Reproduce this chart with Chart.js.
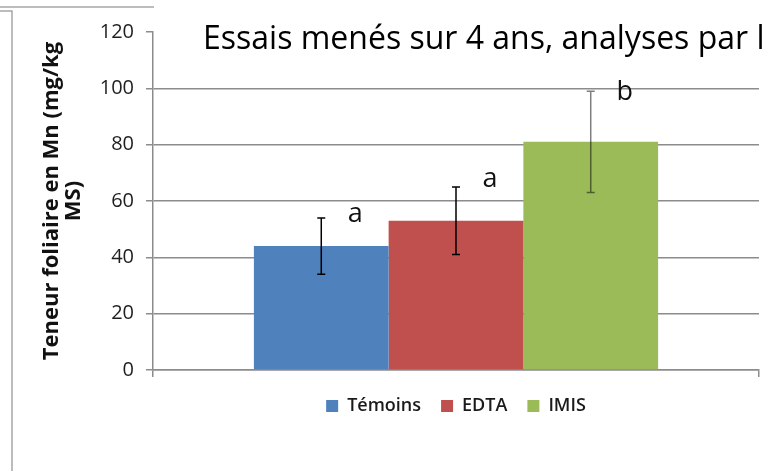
<!DOCTYPE html>
<html>
<head>
<meta charset="utf-8">
<script src="https://cdn.jsdelivr.net/npm/chart.js@4/dist/chart.umd.min.js"></script>
<style>
  body { margin: 0; background: #fff; }
  canvas { display: block; }
</style>
</head>
<body>
<canvas id="mnChart" width="765" height="471"></canvas>
<script>
// data
var categories = [''];
var treatments = ['Témoins', 'EDTA', 'IMIS'];
var means = [44, 53, 81];
var errLow = [34, 41, 63];
var errHigh = [54, 65, 99];
var letters = ['a', 'a', 'b'];
var letterAt = [52.5, 65, 96];
var yTicks = [0, 20, 40, 60, 80, 100, 120];

var colors = ['#4F81BD', '#C0504D', '#9BBB59'];
var errColors = ['#000000', '#000000', 'rgba(0,0,0,0.5)'];

var fontName = "'Open Sans', sans-serif";

var errorBarPlugin = {
    id: 'errorBars',
    afterDatasetsDraw: function(chart){
        var ctx = chart.ctx;
        var y = chart.scales.y;
        ctx.save();
        for(var i = 0; i < treatments.length; i++)
        {
            var bar = chart.getDatasetMeta(i).data[0];
            var top = y.getPixelForValue(errHigh[i]);
            var bot = y.getPixelForValue(errLow[i]);
            ctx.strokeStyle = errColors[i];
            ctx.lineWidth = 1.5;
            ctx.beginPath();
            ctx.moveTo(bar.x, top);
            ctx.lineTo(bar.x, bot);
            ctx.moveTo(bar.x - 4, top);
            ctx.lineTo(bar.x + 4, top);
            ctx.moveTo(bar.x - 4, bot);
            ctx.lineTo(bar.x + 4, bot);
            ctx.stroke();

            // significance letters
            ctx.fillStyle = '#111';
            ctx.font = '27px ' + fontName;
            ctx.textAlign = 'center';
            ctx.textBaseline = 'alphabetic';
            ctx.fillText(letters[i], bar.x + 34, y.getPixelForValue(letterAt[i]));
        }
        ctx.restore();
    }
};

var overlayPlugin = {
    id: 'overlay',
    afterDraw: function(chart){
        var ctx = chart.ctx;
        ctx.save();
        // text box laid over the top of the chart
        ctx.fillStyle = '#fff';
        ctx.fillRect(155, 0, chart.width - 155, 80);
        ctx.fillStyle = '#000';
        ctx.font = '32px ' + fontName;
        ctx.textAlign = 'left';
        ctx.textBaseline = 'alphabetic';
        ctx.fillText('Essais menés sur 4 ans, analyses par les', 203, 49);
        // outer frame
        ctx.strokeStyle = '#a6a6a6';
        ctx.lineWidth = 1.5;
        ctx.beginPath();
        ctx.moveTo(0, 7);
        ctx.lineTo(154, 7);
        ctx.moveTo(0, 11);
        ctx.lineTo(12, 11);
        ctx.lineTo(12, chart.height);
        ctx.stroke();
        ctx.restore();
    }
};

var datasets = [];
for(var i = 0; i < treatments.length; i++)
{
    datasets.push({
        label: treatments[i],
        data: [means[i]],
        backgroundColor: colors[i],
        borderWidth: 0,
        barPercentage: 1,
        categoryPercentage: 0.667
    });
}

var mnChart = new Chart(document.getElementById('mnChart').getContext('2d'), {
    type: 'bar',
    data: {
        labels: categories,
        datasets: datasets
    },
    options: {
        responsive: false,
        animation: false,
        devicePixelRatio: 1,
        layout: {
            padding: { top: 32, right: 6, bottom: 46, left: 0 }
        },
        plugins: {
            legend: {
                position: 'bottom',
                fullSize: false,
                labels: {
                    boxWidth: 12,
                    boxHeight: 12,
                    padding: 20,
                    color: '#1a1a1a',
                    font: { family: fontName, size: 18, weight: '600' }
                }
            },
            tooltip: { enabled: false }
        },
        scales: {
            x: {
                grid: {
                    offset: true,
                    drawOnChartArea: false,
                    drawTicks: true,
                    tickLength: 7,
                    color: '#8c8c8c',
                    lineWidth: 1.5
                },
                border: { color: '#8c8c8c', width: 1.5 },
                ticks: { display: false }
            },
            y: {
                min: 0,
                max: 120,
                afterBuildTicks: function(scale){
                    scale.ticks = yTicks.map(function(v){ return { value: v }; });
                },
                afterFit: function(scale){
                    scale.width = 153;
                },
                grid: {
                    color: function(c){ return c.tick && c.tick.value === 120 ? 'rgba(0,0,0,0)' : '#8c8c8c'; },
                    tickColor: '#8c8c8c',
                    lineWidth: 1.5,
                    tickLength: 7
                },
                border: { color: '#8c8c8c', width: 1.5 },
                ticks: {
                    padding: 12,
                    color: '#1f1f1f',
                    font: { family: fontName, size: 20 }
                },
                title: {
                    display: true,
                    text: ['Teneur foliaire en Mn (mg/kg', 'MS)'],
                    color: '#111',
                    padding: { top: 41, bottom: 0 },
                    font: { family: fontName, size: 22, weight: 'bold', lineHeight: 1.0 }
                }
            }
        }
    },
    plugins: [errorBarPlugin, overlayPlugin]
});
</script>
</body>
</html>
